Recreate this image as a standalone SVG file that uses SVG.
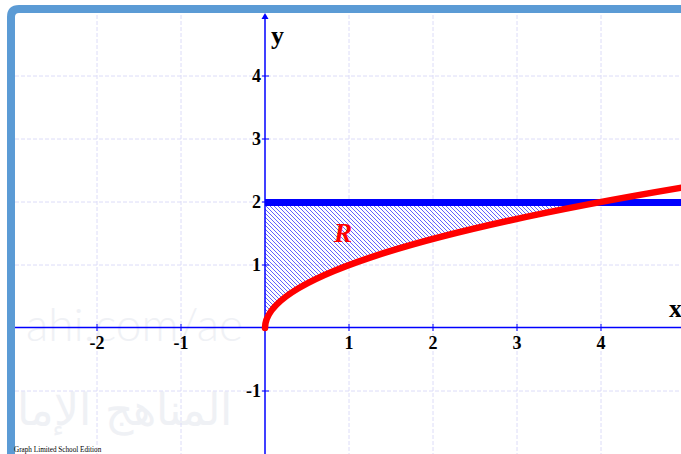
<svg xmlns="http://www.w3.org/2000/svg" width="681" height="454" viewBox="0 0 681 454">
<style>
.grid{stroke:#dcdcf8;stroke-width:1;stroke-dasharray:4,2;fill:none}
.axis{stroke:#0000ff;stroke-width:1.5;fill:none}
.tick{stroke:#0000ff;stroke-width:1}
.num{font-family:"Liberation Serif",serif;font-weight:bold;font-size:18px;fill:#000}
.axlab{font-family:"Liberation Serif",serif;font-weight:bold;font-size:26px;fill:#000}
.wm{font-weight:300;fill:#eff1f5}
</style>
<defs>
<pattern id="hatch" patternUnits="userSpaceOnUse" width="4" height="4">
<path d="M0,0 L4,4 M-1,3 L1,5 M3,-1 L5,1" stroke="#3a3aff" stroke-width="0.8"/>
</pattern>
</defs>
<rect width="681" height="454" fill="#fff"/>
<g id="watermark">
<text class="wm" x="243" y="341" font-size="46" text-anchor="end" font-family="Lato,DejaVu Sans,sans-serif">ahi.com/ae</text>
<text class="wm" x="232" y="425" font-size="44" text-anchor="end" font-family="DejaVu Sans,sans-serif">المناهج الإما</text>
</g>
<g id="grid">
<path class="grid" d="M97,15V454 M181,15V454 M349,15V454 M433,15V454 M517,15V454 M601,15V454"/>
<path class="grid" d="M15,76H681 M15,139H681 M15,202H681 M15,265H681 M15,391H681"/>
</g>
<g id="region-R">
<path d="M265,328 Q265,265 601,202 L265,202 Z" fill="url(#hatch)"/>
<text x="334" y="242" font-family="Liberation Serif,serif" font-weight="bold" font-style="italic" font-size="27" fill="#ff0000">R</text>
</g>
<g id="axes">
<path class="axis" d="M15,327.5H681"/>
<path class="axis" d="M265,454V16"/>
<path d="M265,13 L261.5,19 L268.5,19 Z" fill="#0000ff"/>
<path class="tick" d="M97,324V331 M181,324V331 M349,324V331 M433,324V331 M517,324V331 M601,324V331 M262,76H269 M262,139H269 M262,202H269 M262,265H269 M262,391H269"/>
<text class="axlab" x="271" y="44">y</text>
<text class="axlab" x="669" y="317">x</text>
</g>
<g id="tick-labels">
<text class="num" x="97" y="349" text-anchor="middle">-2</text>
<text class="num" x="181" y="349" text-anchor="middle">-1</text>
<text class="num" x="349" y="349" text-anchor="middle">1</text>
<text class="num" x="433" y="349" text-anchor="middle">2</text>
<text class="num" x="517" y="349" text-anchor="middle">3</text>
<text class="num" x="601" y="349" text-anchor="middle">4</text>
<text class="num" x="261" y="82" text-anchor="end">4</text>
<text class="num" x="261" y="145" text-anchor="end">3</text>
<text class="num" x="261" y="208" text-anchor="end">2</text>
<text class="num" x="261" y="271" text-anchor="end">1</text>
<text class="num" x="261" y="397" text-anchor="end">-1</text>
</g>
<g id="connectors">
<path id="line-y2" d="M265,202.5H681" stroke="#0000ff" stroke-width="7" fill="none"/>
<path id="curve-sqrt" d="M265,328 Q265,257.6 685,187.1" stroke="#ff0000" stroke-width="6.5" fill="none" stroke-linecap="round"/>
</g>
<path id="frame" d="M11,454 V17 Q11,9 19,9 H681" stroke="#5b9bd5" stroke-width="8" fill="none"/>
<text x="14" y="452" font-family="Liberation Serif,serif" font-size="7.2" fill="#000">Graph Limited School Edition</text>
</svg>
